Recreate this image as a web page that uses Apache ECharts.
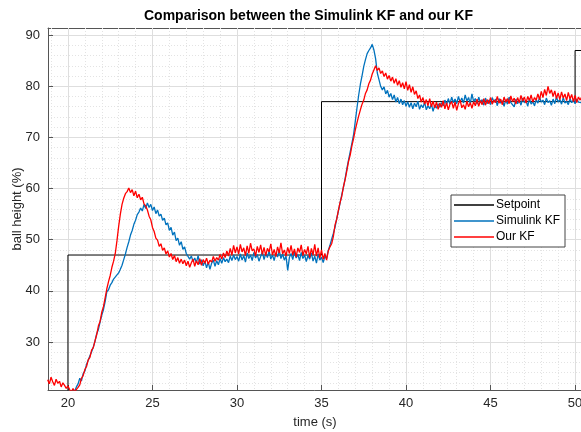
<!DOCTYPE html>
<html>
<head>
<meta charset="utf-8">
<script src="https://cdn.jsdelivr.net/npm/echarts@6/dist/echarts.min.js"></script>
<style>
  html, body { margin: 0; padding: 0; background: #fff; }
  #chart { width: 581px; height: 432px; }
</style>
</head>
<body>
<div id="chart"></div>
<script>
// sampling of the two KF traces (s)
var t0 = 18.8;
var dt = 0.1;

// setpoint step corners
var setpointTime  = [18.8, 20, 20, 35, 35, 50, 50, 50.41];
var setpointValue = [20, 20, 47, 47, 77, 77, 87, 87];

// ball height estimated by the Simulink KF (%)
var simulinkKF = [
  19.6, 19.9, 19.4, 20.1, 19.7, 19.5, 20.0, 19.3, 19.8, 19.6,
  20.2, 19.5, 19.9, 19.4, 20.0, 19.8, 20.4, 21.2, 21.8, 22.9,
  22.4, 23.8, 24.3, 25.6, 25.9, 27.3, 28.1, 29.0, 30.1, 31.6,
  32.4, 33.9, 35.2, 36.3, 37.9, 39.8, 40.2, 41.1, 41.6, 42.3,
  42.0, 43.1, 43.5, 44.2, 45.0, 46.1, 47.2, 48.5, 49.6, 50.9,
  51.8, 53.0, 53.8, 54.9, 55.4, 56.2, 55.6, 56.9, 56.1, 57.2,
  56.3, 56.9, 55.7, 56.4, 55.1, 55.8, 54.6, 55.0, 53.8, 54.2,
  52.9, 53.3, 51.8, 52.4, 50.9, 51.5, 49.8, 50.3, 48.9, 49.6,
  48.1, 48.6, 47.3, 47.0, 46.2, 46.8, 45.7, 46.4, 45.5, 46.9,
  45.2, 46.1, 44.9, 45.8, 44.5, 45.6, 44.2, 45.4, 46.0, 44.8,
  45.9, 45.1, 46.3, 45.4, 46.5, 45.7, 46.2, 45.5, 46.8, 45.9,
  47.0, 46.1, 46.7, 45.8, 47.2, 46.0, 46.9, 45.6, 47.4, 46.3,
  47.0, 45.9, 47.5, 46.4, 47.1, 45.8, 46.7, 47.6, 46.1, 47.3,
  46.5, 47.8, 46.2, 47.0, 45.9, 47.4, 46.6, 47.9, 46.3, 47.2,
  46.0, 46.8, 44.0, 46.5, 47.3, 46.1, 47.7, 46.4, 47.1, 45.9,
  47.5, 46.3, 47.0, 45.7, 46.9, 46.2, 47.4, 45.8, 46.8, 45.4,
  47.2, 46.0, 46.6, 45.5, 46.8, 46.3, 47.9, 48.9, 50.1, 51.2,
  52.4, 54.1, 55.6, 57.2, 58.8, 60.3, 62.0, 63.9, 65.6, 67.2,
  68.9, 70.6, 73.2, 75.8, 78.3, 80.4, 82.1, 83.9, 85.2, 86.4,
  87.0, 87.5, 88.2, 87.1, 85.4, 82.6, 81.3, 80.0, 79.3, 79.9,
  78.5, 79.2, 77.9, 78.6, 77.4, 78.3, 76.9, 77.8, 76.6, 77.5,
  76.4, 77.2, 76.1, 77.0, 75.9, 76.8, 75.6, 76.7, 76.0, 77.1,
  75.5, 76.4, 75.8, 76.9, 75.4, 76.2, 75.6, 76.5, 75.1, 76.3,
  75.7, 76.6, 75.9, 76.8, 76.2, 77.3, 76.4, 77.6, 76.5, 77.9,
  76.8, 77.5, 76.6, 78.0, 76.9, 77.7, 76.7, 78.3, 77.1, 77.8,
  76.6, 78.5, 77.0, 77.6, 76.5, 77.9, 76.8, 77.4, 76.3, 77.7,
  76.6, 77.3, 76.4, 77.8, 76.9, 77.5, 76.2, 77.6, 76.7, 77.2,
  76.1, 77.4, 76.5, 77.9, 76.8, 77.1, 76.0, 77.5, 76.6, 77.3,
  76.3, 77.7, 76.8, 77.2, 76.1, 77.6, 76.5, 77.0, 76.2, 77.4,
  76.7, 77.8, 76.9, 77.3, 76.4, 77.7, 76.8, 77.2, 76.3, 77.5,
  76.6, 77.9, 76.9, 77.4, 76.5, 77.8, 76.7, 77.1, 76.4, 77.6,
  76.8, 77.3, 76.6, 77.5, 76.9, 77.2, 76.8
];

// ball height estimated by our KF (%)
var ourKF = [
  22.6, 21.8, 23.1, 22.2, 21.5, 22.7, 21.9, 22.3, 21.2, 22.0,
  21.5, 20.9, 21.4, 20.7, 20.2, 20.9, 20.3, 20.5, 21.1, 21.6,
  22.9, 23.4, 24.6, 25.2, 26.5, 27.0, 28.4, 28.9, 30.2, 31.4,
  33.1, 34.0, 35.8, 36.9, 38.6, 40.4, 41.8, 43.0, 44.6, 45.8,
  47.3, 49.8, 52.6, 55.0, 56.9, 58.1, 59.0, 59.4, 60.1, 59.2,
  59.8, 58.6, 59.5, 58.2, 58.9, 57.8, 58.3, 57.0, 56.6, 55.8,
  54.6, 53.9, 52.4, 51.6, 50.3, 49.9, 48.7, 49.2, 47.9, 48.4,
  47.2, 47.8, 46.6, 47.3, 46.1, 46.9, 45.7, 46.5, 45.4, 46.2,
  45.3, 46.0, 44.9, 45.8, 44.6, 45.5, 46.2, 44.8, 45.9, 45.1,
  46.3, 45.0, 46.1, 45.4, 46.4, 45.2, 46.0, 45.6, 46.7, 45.8,
  46.5, 46.0, 47.1, 46.2, 47.4, 46.5, 47.8, 46.8, 48.3, 47.0,
  48.9, 47.4, 48.6, 47.2, 49.1, 47.6, 48.4, 46.9, 48.8, 47.3,
  49.3, 47.8, 48.2, 46.8, 48.7, 47.5, 49.0, 47.1, 48.5, 46.9,
  48.3, 47.6, 49.2, 47.0, 48.1, 46.7, 48.6, 47.4, 49.4, 47.2,
  48.0, 46.8, 48.5, 47.3, 48.9, 47.0, 48.2, 46.6, 48.4, 47.5,
  49.0, 46.9, 48.1, 47.2, 48.7, 46.5, 48.3, 47.0, 49.1, 46.8,
  48.4, 46.4, 48.0, 46.2, 47.3, 46.0, 47.8, 48.6, 49.2, 50.6,
  52.9, 54.0, 55.8, 57.3, 58.5, 60.4, 61.8, 63.5, 65.3, 66.6,
  68.4, 69.8, 71.5, 72.9, 74.2, 75.4, 76.5, 77.3, 78.6, 79.3,
  80.5, 81.2, 82.4, 83.2, 84.0, 83.1, 83.6, 82.5, 83.0, 81.9,
  82.6, 81.4, 82.1, 81.0, 81.8, 80.6, 81.5, 80.2, 81.1, 79.8,
  80.7, 79.5, 80.9, 79.2, 80.3, 78.8, 79.9, 78.4, 79.1, 77.6,
  78.3, 76.9, 77.8, 76.5, 77.4, 76.2, 77.6, 76.0, 77.1, 75.8,
  76.9, 75.5, 76.7, 75.9, 77.2, 75.6, 76.8, 75.4, 76.5, 77.0,
  75.7, 76.9, 75.3, 76.6, 77.3, 75.8, 76.4, 75.5, 77.1, 76.0,
  76.8, 75.7, 77.0, 76.2, 77.5, 76.1, 77.2, 76.4, 77.6, 76.3,
  77.4, 76.6, 77.8, 76.5, 77.3, 76.8, 78.0, 76.7, 77.5, 76.4,
  77.9, 76.9, 77.6, 76.6, 78.1, 77.0, 77.7, 76.5, 77.8, 76.8,
  78.2, 77.1, 77.9, 76.7, 78.0, 77.2, 78.3, 76.9, 77.8, 77.3,
  78.5, 77.4, 79.0, 77.8, 79.4, 78.2, 80.0, 78.6, 79.3, 78.0,
  79.1, 77.6, 78.7, 77.4, 78.9, 77.7, 78.5, 77.2, 78.8, 77.5,
  78.4, 77.0, 78.2, 76.8, 77.9, 77.3, 78.0
];

// tick positions
var xMajorTicks = [20, 25, 30, 35, 40, 45, 50];
var xMinorTicks = [19, 20, 21, 22, 23, 24, 25, 26, 27, 28, 29, 30, 31, 32, 33, 34,
                   35, 36, 37, 38, 39, 40, 41, 42, 43, 44, 45, 46, 47, 48, 49, 50];
var yMajorTicks = [30, 40, 50, 60, 70, 80, 90];
var yMinorTicks = [22, 24, 26, 28, 30, 32, 34, 36, 38, 40, 42, 44, 46, 48, 50, 52, 54, 56,
                   58, 60, 62, 64, 66, 68, 70, 72, 74, 76, 78, 80, 82, 84, 86, 88, 90];

var legendNames = ['Setpoint', 'Simulink KF', 'Our KF'];

function pairs(xs, ys) {
  var out = [];
  for (var i = 0; i < ys.length; i++) out.push([xs[i], ys[i]]);
  return out;
}
var kfTime = [];
for (var i = 0; i < ourKF.length; i++) kfTime.push(+(t0 + i * dt).toFixed(2));

var X_MIN = 18.82, X_MAX = 50.41, Y_MIN = 20.6, Y_MAX = 91.4;
var AXIS_COLOR = '#555555';
var TEXT_COLOR = '#262626';
var FONT = '"Liberation Sans", Arial, sans-serif';

var chart = echarts.init(document.getElementById('chart'));

var option = {
  animation: false,
  backgroundColor: '#ffffff',
  textStyle: { fontFamily: FONT },
  title: {
    text: 'Comparison between the Simulink KF and our KF',
    left: 144,
    top: 9,
    padding: 0,
    textStyle: { fontSize: 14, fontWeight: 'bold', color: '#000', fontFamily: FONT }
  },
  legend: {
    data: legendNames,
    orient: 'vertical',
    left: 451,
    top: 195,
    padding: [3, 5, 3, 3],
    icon: 'rect',
    itemWidth: 40,
    itemHeight: 1.5,
    itemGap: 2,
    backgroundColor: '#ffffff',
    borderColor: '#444444',
    borderWidth: 1,
    borderRadius: 0,
    textStyle: { fontSize: 12, lineHeight: 14, color: '#000', fontFamily: FONT, padding: [0, 0, 0, -3] }
  },
  grid: {
    left: 48,
    top: 28,
    right: -1,
    bottom: 42,
    outerBoundsMode: 'none',
    containLabel: false
  },
  xAxis: [
    {
      type: 'value', min: X_MIN, max: X_MAX, position: 'bottom',
      name: 'time (s)', nameLocation: 'middle', nameGap: 26, nameMoveOverlap: false,
      nameTextStyle: { fontSize: 13, color: TEXT_COLOR, fontFamily: FONT },
      axisLine: { show: true, onZero: false, lineStyle: { color: AXIS_COLOR, width: 1 } },
      axisTick: { show: true, inside: true, length: 5, customValues: xMajorTicks, lineStyle: { color: AXIS_COLOR } },
      axisLabel: { show: true, customValues: xMajorTicks, color: TEXT_COLOR, fontSize: 13, margin: 7, hideOverlap: false },
      splitLine: { show: true, lineStyle: { color: '#dedede', width: 1 } },
      z: 3
    },
    {
      type: 'value', min: X_MIN, max: X_MAX, position: 'bottom',
      axisLine: { show: false },
      axisTick: { show: false, customValues: xMinorTicks },
      axisLabel: { show: false },
      splitLine: { show: true, lineStyle: { color: '#e3e3e3', width: 1, type: [1, 2] } },
      z: 1
    },
    {
      type: 'value', min: X_MIN, max: X_MAX, position: 'top',
      axisLine: { show: true, onZero: false, lineStyle: { color: AXIS_COLOR, width: 1 } },
      axisTick: { show: true, inside: true, length: 5, customValues: xMajorTicks, lineStyle: { color: AXIS_COLOR } },
      axisLabel: { show: false },
      splitLine: { show: false }
    }
  ],
  yAxis: [
    {
      type: 'value', min: Y_MIN, max: Y_MAX, position: 'left',
      name: 'ball height (%)', nameLocation: 'middle', nameGap: 24, nameMoveOverlap: false,
      nameTextStyle: { fontSize: 13, color: TEXT_COLOR, fontFamily: FONT },
      axisLine: { show: true, onZero: false, lineStyle: { color: AXIS_COLOR, width: 1 } },
      axisTick: { show: true, inside: true, length: 5, customValues: yMajorTicks, lineStyle: { color: AXIS_COLOR } },
      axisLabel: { show: true, customValues: yMajorTicks, color: TEXT_COLOR, fontSize: 13, margin: 8, hideOverlap: false },
      splitLine: { show: true, lineStyle: { color: '#dedede', width: 1 } },
      z: 3
    },
    {
      type: 'value', min: Y_MIN, max: Y_MAX, position: 'left',
      axisLine: { show: false },
      axisTick: { show: false, customValues: yMinorTicks },
      axisLabel: { show: false },
      splitLine: { show: true, lineStyle: { color: '#e3e3e3', width: 1, type: [1, 2] } },
      z: 1
    },
    {
      type: 'value', min: Y_MIN, max: Y_MAX, position: 'right',
      axisLine: { show: true, onZero: false, lineStyle: { color: AXIS_COLOR, width: 1 } },
      axisTick: { show: true, inside: true, length: 5, customValues: yMajorTicks, lineStyle: { color: AXIS_COLOR } },
      axisLabel: { show: false },
      splitLine: { show: false }
    }
  ],
  series: [
    {
      name: 'Setpoint', type: 'line', xAxisIndex: 0, yAxisIndex: 0,
      data: pairs(setpointTime, setpointValue),
      symbol: 'none', lineStyle: { color: '#000000', width: 1 }, itemStyle: { color: '#000000' }
    },
    {
      name: 'Simulink KF', type: 'line', xAxisIndex: 0, yAxisIndex: 0,
      data: pairs(kfTime, simulinkKF),
      symbol: 'none', lineStyle: { color: '#0072bd', width: 1.3 }, itemStyle: { color: '#0072bd' }
    },
    {
      name: 'Our KF', type: 'line', xAxisIndex: 0, yAxisIndex: 0,
      data: pairs(kfTime, ourKF),
      symbol: 'none', lineStyle: { color: '#ff0000', width: 1.3 }, itemStyle: { color: '#ff0000' }
    }
  ]
};

chart.setOption(option);
</script>
</body>
</html>
